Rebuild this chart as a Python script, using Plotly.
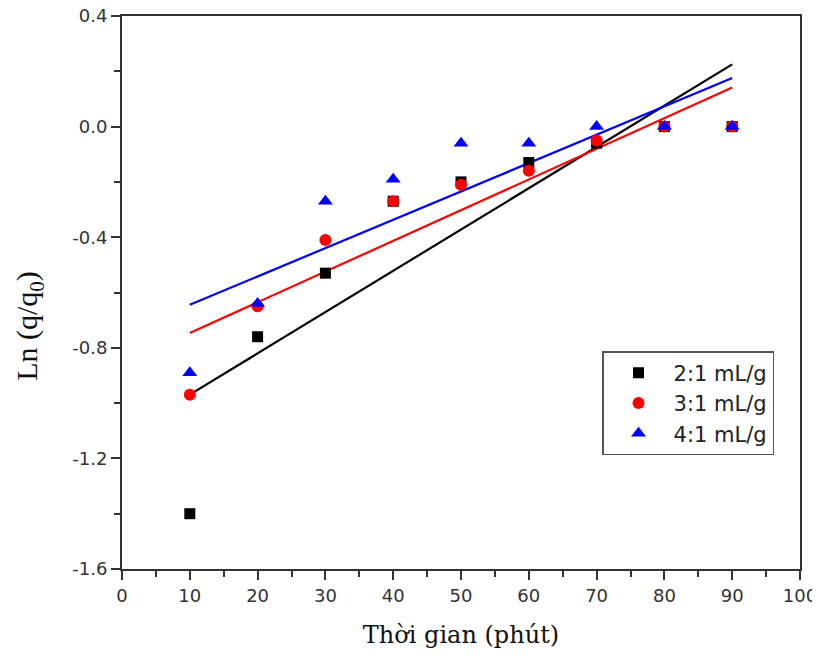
import numpy as np
import plotly.graph_objects as go

time_min = [10, 20, 30, 40, 50, 60, 70, 80, 90]
ln_2to1 = [-1.40, -0.76, -0.53, -0.27, -0.20, -0.13, -0.06, 0.0, 0.0]
ln_3to1 = [-0.97, -0.65, -0.41, -0.27, -0.21, -0.16, -0.05, 0.0, 0.0]
ln_4to1 = [-0.89, -0.64, -0.27, -0.19, -0.06, -0.06, 0.0, 0.0, 0.0]

y_ticks = [-1.6, -1.2, -0.8, -0.4, 0.0, 0.4]
y_tick_labels = ["-1.6", "-1.2", "-0.8", "-0.4", "0.0", "0.4"]
x_ticks = [0, 10, 20, 30, 40, 50, 60, 70, 80, 90, 100]

SERIES = [
    ("2:1 mL/g", ln_2to1, "#000000", "square", 11),
    ("3:1 mL/g", ln_3to1, "#FF0000", "circle", 12),
    ("4:1 mL/g", ln_4to1, "#0000FF", "triangle-up", 13),
]

fig = go.Figure()

# linear fits drawn first, markers on top
x_fit = np.array([min(time_min), max(time_min)])
for name, ys, color, sym, size in SERIES:
    k, b = np.polyfit(time_min, ys, 1)
    fig.add_trace(go.Scatter(
        x=x_fit, y=k * x_fit + b, mode="lines",
        line=dict(color=color, width=2.2), showlegend=False, hoverinfo="skip",
    ))

for name, ys, color, sym, size in SERIES:
    fig.add_trace(go.Scatter(
        x=time_min, y=ys, mode="markers", name=name,
        marker=dict(color=color, symbol=sym, size=size, line=dict(width=0)),
    ))

TICK_FONT = dict(family="DejaVu Sans", size=18, color="#333333")
axis_common = dict(
    showline=True, linecolor="#333333", linewidth=2, mirror=True,
    ticks="outside", ticklen=9, tickwidth=1.5, tickcolor="#333333",
    showgrid=False, zeroline=False, tickfont=TICK_FONT,
    ticklabeloverflow="allow", automargin=False,
)
minor_ticks = dict(ticks="outside", ticklen=6, tickwidth=1.5, tickcolor="#333333")

# page body adds an 8px offset, so the figure is 8px smaller than the window
fig.update_layout(
    width=812, height=652,
    paper_bgcolor="white", plot_bgcolor="white",
    margin=dict(l=114, r=20, t=8, b=91),
    xaxis=dict(
        **axis_common, range=[0, 100], tickvals=x_ticks,
        minor=dict(**minor_ticks, dtick=5),
        title=dict(text="Thời gian (phút)", standoff=22,
                   font=dict(family="DejaVu Serif", size=24, color="#111111")),
    ),
    yaxis=dict(
        **axis_common, range=[-1.6, 0.4], tickvals=y_ticks, ticktext=y_tick_labels,
        minor=dict(**minor_ticks, dtick=0.2),
    ),
    legend=dict(
        x=0.708, y=0.394, xanchor="left", yanchor="top",
        bordercolor="#555555", borderwidth=1.5, bgcolor="white",
        font=dict(family="DejaVu Sans", size=21, color="#222222"),
        itemwidth=60, tracegroupgap=0,
    ),
    annotations=[dict(
        text="Ln (q/q<sub>0</sub>)", textangle=-90,
        xref="paper", yref="paper", x=-0.137, y=0.44,
        xanchor="center", yanchor="middle", showarrow=False,
        font=dict(family="Liberation Serif", size=30, color="#111111"),
    )],
)

fig.write_html("out.html")
